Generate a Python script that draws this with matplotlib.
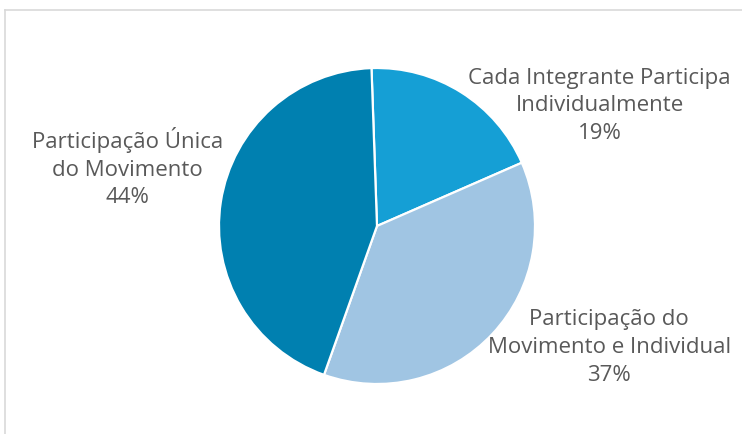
import matplotlib.pyplot as plt
from matplotlib.lines import Line2D

# data
labels = ["Cada Integrante Participa\nIndividualmente",
          "Participação do\nMovimento e Individual",
          "Participação Única\ndo Movimento"]
values = [19, 37, 44]
colors = ["#159FD5", "#A0C5E3", "#0080B0"]
label_pos = [(1.41, 0.76), (1.47, -0.77), (-1.58, 0.37)]

W, H = 742, 434
cx, cy, r = 377, 226, 158

fig = plt.figure(figsize=(W / 100, H / 100), dpi=100)
ax = fig.add_axes([0, 0, 1, 1])
ax.pie(values, colors=colors, startangle=92, counterclock=False,
       wedgeprops=dict(edgecolor="white", linewidth=1.6))
ax.set_xlim(-cx / r, (W - cx) / r)
ax.set_ylim(-(H - cy) / r, cy / r)
ax.set_aspect("equal")
ax.axis("off")

for lab, v, (x, y) in zip(labels, values, label_pos):
    ax.text(x, y, f"{lab}\n{v}%", ha="center", va="center", fontsize=16,
            color="#595959", family="Open Sans", linespacing=1.42)

# chart-area border (cropped)
fig.add_artist(Line2D([5 / W, 5 / W], [0, 1 - 10 / H], color="#D9D9D9", lw=1.2,
                      transform=fig.transFigure))
fig.add_artist(Line2D([5 / W, 1], [1 - 10 / H, 1 - 10 / H], color="#D9D9D9", lw=1.2,
                      transform=fig.transFigure))

fig.savefig("out.png", dpi=100)
